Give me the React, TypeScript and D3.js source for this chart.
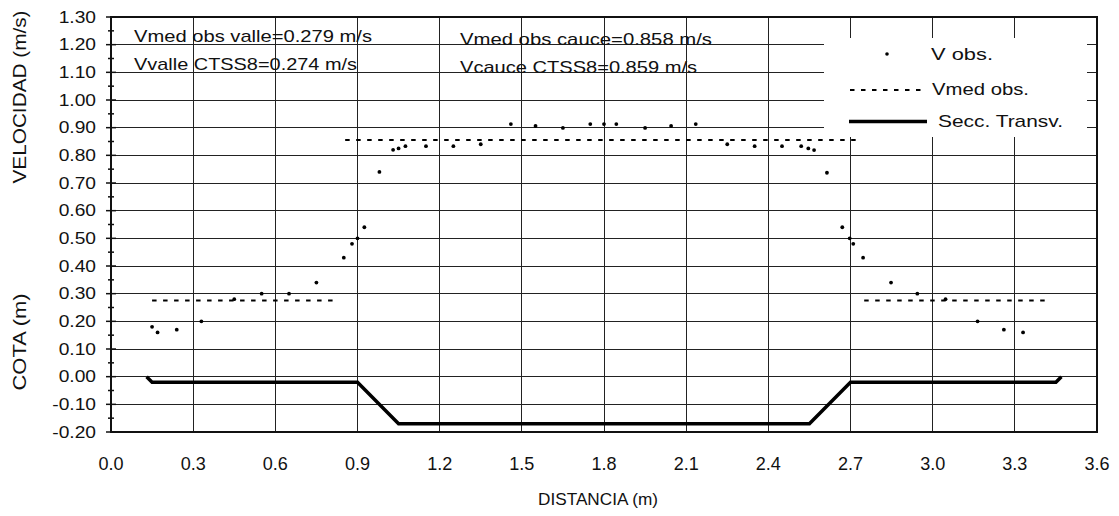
import React from "react";
import * as d3 from "d3";

const W = 1119;
const H = 516;

// V obs. (distance m, velocity m/s)
const vObsX = [0.15, 0.17, 0.24, 0.33, 0.45, 0.55, 0.65, 0.75, 0.85, 0.88, 0.9, 0.925, 0.98, 1.03, 1.05, 1.075, 1.15, 1.25, 1.35, 1.46, 1.55, 1.65, 1.75, 1.8, 1.845, 1.95, 2.045, 2.135, 2.25, 2.35, 2.45, 2.52, 2.546, 2.567, 2.614, 2.67, 2.697, 2.71, 2.746, 2.848, 2.944, 3.047, 3.164, 3.26, 3.33];
const vObsY = [0.18, 0.16, 0.17, 0.2, 0.28, 0.3, 0.3, 0.34, 0.43, 0.48, 0.5, 0.54, 0.74, 0.82, 0.825, 0.833, 0.833, 0.833, 0.84, 0.913, 0.906, 0.899, 0.913, 0.913, 0.913, 0.899, 0.906, 0.913, 0.84, 0.833, 0.833, 0.833, 0.825, 0.819, 0.737, 0.54, 0.5, 0.48, 0.43, 0.34, 0.3, 0.28, 0.2, 0.17, 0.16];

// Vmed obs. segments
const vmedStart = [0.15, 0.855, 2.75];
const vmedEnd = [0.83, 2.725, 3.42];
const vmedValue = [0.275, 0.855, 0.275];

// Secc. Transv.
const secX = [0.13, 0.15, 0.9, 1.05, 2.55, 2.7, 3.45, 3.47];
const secY = [0.0, -0.02, -0.02, -0.17, -0.17, -0.02, -0.02, 0.0];

const xTicks = [0, 0.3, 0.6, 0.9, 1.2, 1.5, 1.8, 2.1, 2.4, 2.7, 3.0, 3.3, 3.6];
const yTicks = [-0.2, -0.1, 0, 0.1, 0.2, 0.3, 0.4, 0.5, 0.6, 0.7, 0.8, 0.9, 1.0, 1.1, 1.2, 1.3];
const yMinor = [-0.15, -0.05, 0.05, 0.15, 0.25, 0.35, 0.45, 0.55, 0.65, 0.75, 0.85, 0.95, 1.05, 1.15, 1.25];

const annotations = [
  { text: "Vmed obs valle=0.279 m/s", x: 134, y: 42, len: 238 },
  { text: "Vvalle CTSS8=0.274 m/s", x: 134, y: 70, len: 223 },
  { text: "Vmed obs cauce=0.858 m/s", x: 460, y: 45, len: 252 },
  { text: "Vcauce CTSS8=0.859 m/s", x: 460, y: 73, len: 237 },
];

const FONT = "'Liberation Sans', Arial, Helvetica, sans-serif";

export default function App() {
  const L = 111, R = 1097, T = 17, B = 432;
  const x = d3.scaleLinear().domain([0, 3.6]).range([L, R]);
  const y = d3.scaleLinear().domain([-0.2, 1.3]).range([B, T]);

  const secLine = d3
    .line<number>()
    .x((_, i) => x(secX[i]))
    .y((_, i) => y(secY[i]));

  const legend = { x0: 824, x1: 1087, y0: 38, y1: 137 };

  return (
    <svg width={W} height={H} style={{ position: "absolute", left: 0, top: 0, background: "#fff" }} fontFamily={FONT}>
      <rect x={0} y={0} width={W} height={H} fill="#fff" />
      {/* grid */}
      <g stroke="#222" strokeWidth={1} shapeRendering="crispEdges">
        {yTicks.slice(1, -1).map((t) => (
          <line key={"h" + t} x1={L} x2={R} y1={y(t)} y2={y(t)} />
        ))}
        {xTicks.slice(1, -1).map((t) => (
          <line key={"v" + t} x1={x(t)} x2={x(t)} y1={T} y2={B} />
        ))}
      </g>
      {/* legend background */}
      <rect x={legend.x0} y={legend.y0} width={legend.x1 - legend.x0} height={legend.y1 - legend.y0} fill="#fff" />

      {/* frame */}
      <rect x={L} y={T} width={R - L} height={B - T} fill="none" stroke="#111" strokeWidth={2} />
      {/* left axis ticks */}
      <g stroke="#111" strokeWidth={1.5}>
        {yTicks.map((t) => (
          <line key={"mt" + t} x1={L - 5} x2={L + 5} y1={y(t)} y2={y(t)} />
        ))}
        {yMinor.map((t) => (
          <line key={"nt" + t} x1={L - 3} x2={L + 3} y1={y(t)} y2={y(t)} />
        ))}
      </g>

      {/* y tick labels */}
      {yTicks.map((t) => (
        <text
          key={"yl" + t}
          transform={`translate(96,${y(t) + 5.8}) scale(1.2,1)`}
          textAnchor="end"
          fontSize={16}
          fill="#111"
        >
          {t.toFixed(2)}
        </text>
      ))}
      {/* x tick labels */}
      {xTicks.map((t) => (
        <text
          key={"xl" + t}
          transform={`translate(${x(t)},470) scale(0.95,1)`}
          textAnchor="middle"
          fontSize={19}
          fill="#111"
        >
          {t.toFixed(1)}
        </text>
      ))}

      {/* axis titles */}
      <text x={598} y={505} textAnchor="middle" fontSize={17} textLength={120} lengthAdjust="spacingAndGlyphs" fill="#111">
        DISTANCIA (m)
      </text>
      <text transform="translate(26,97) rotate(-90)" textAnchor="middle" fontSize={18} textLength={173} lengthAdjust="spacingAndGlyphs" fill="#111">
        VELOCIDAD (m/s)
      </text>
      <text transform="translate(26,342) rotate(-90)" textAnchor="middle" fontSize={18} textLength={97} lengthAdjust="spacingAndGlyphs" fill="#111">
        COTA (m)
      </text>

      {/* annotations */}
      {annotations.map((a) => (
        <text key={a.text} x={a.x} y={a.y} fontSize={17} textLength={a.len} lengthAdjust="spacingAndGlyphs" fill="#111">
          {a.text}
        </text>
      ))}

      {/* Vmed obs dashed */}
      {vmedValue.map((v, i) => (
        <line
          key={"vm" + i}
          x1={x(vmedStart[i])}
          x2={x(vmedEnd[i])}
          y1={y(v)}
          y2={y(v)}
          stroke="#000"
          strokeWidth={2}
          strokeDasharray="4.5 6.5"
        />
      ))}

      {/* section */}
      <path d={secLine(secX) || ""} fill="none" stroke="#000" strokeWidth={3.5} strokeLinejoin="miter" />

      {/* V obs points */}
      {vObsX.map((vx, i) => (
        <circle key={"p" + i} cx={x(vx)} cy={y(vObsY[i])} r={1.9} fill="#000" />
      ))}

      {/* legend */}
      <circle cx={887} cy={54} r={1.8} fill="#000" />
      <text x={931} y={60} fontSize={17} textLength={62} lengthAdjust="spacingAndGlyphs" fill="#111">V obs.</text>
      <line x1={850} x2={921} y1={90} y2={90} stroke="#000" strokeWidth={2} strokeDasharray="4.5 6.5" />
      <text x={932} y={95} fontSize={17} textLength={97} lengthAdjust="spacingAndGlyphs" fill="#111">Vmed obs.</text>
      <line x1={849} x2={927} y1={121.5} y2={121.5} stroke="#000" strokeWidth={3.5} />
      <text x={938} y={127} fontSize={17} textLength={125} lengthAdjust="spacingAndGlyphs" fill="#111">Secc. Transv.</text>
    </svg>
  );
}
